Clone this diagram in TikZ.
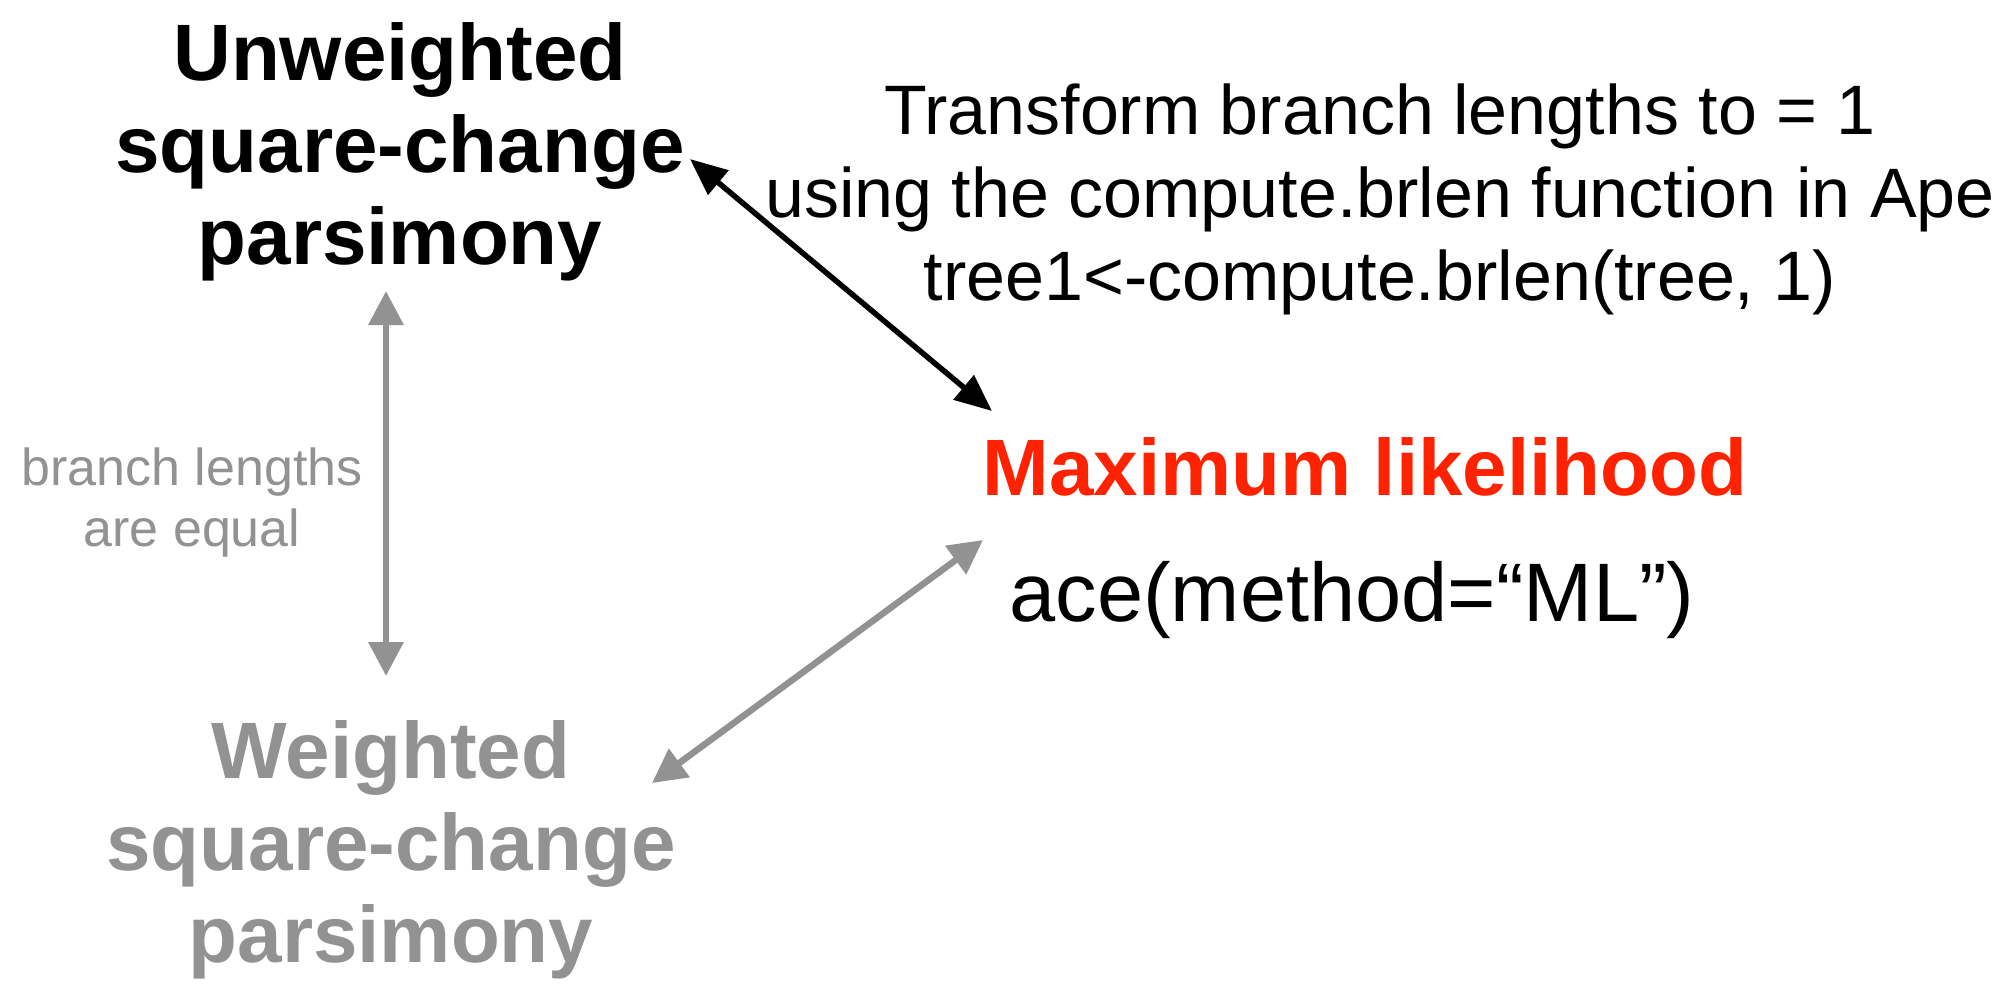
\documentclass[tikz,border=0pt]{standalone}
\usepackage{fontspec}
\setmainfont{Liberation Sans}
\usetikzlibrary{arrows.meta}
\definecolor{mutedgray}{RGB}{146,146,146}
\definecolor{mlred}{RGB}{255,34,0}
\tikzset{
  title/.style={font=\bfseries\fontsize{80}{92}\selectfont, align=center, inner sep=0pt, anchor=base},
  note/.style={font=\fontsize{70}{83}\selectfont, align=center, inner sep=0pt, anchor=base},
  small/.style={font=\fontsize{52}{61}\selectfont, align=center, inner sep=0pt, anchor=base, text=mutedgray},
  blackarrow/.style={line width=5.5pt, {Triangle[length=37pt,width=31pt]}-{Triangle[length=37pt,width=31pt]}},
  grayarrow/.style={line width=6.5pt, draw=mutedgray, {Triangle[length=34pt,width=34pt]}-{Triangle[length=34pt,width=34pt]}}
}
\begin{document}
\begin{tikzpicture}[x=1pt,y=-1pt]
  \useasboundingbox (0,0) rectangle (2000,986);

  % method blocks (multi-line nodes are placed by the baseline of their last line)
  \node[title] (unw) at (400,264) {Unweighted\\square-change\\parsimony};
  \node[title, text=mutedgray] (wei) at (391,962) {Weighted\\square-change\\parsimony};
  \node[title, text=mlred] (ml) at (1365,495) {Maximum likelihood};
  \node[note, font=\fontsize{83}{92}\selectfont] (ace) at (1352,621) {ace(method=“ML”)};

  % annotations
  \node[note] (transform) at (1380,300) {Transform branch lengths to = 1\\using the compute.brlen function in Ape\\tree1<-compute.brlen(tree, 1)};
  \node[small] (equal) at (192,546) {branch lengths\\are equal};

  % arrow end points
  \coordinate (unwR) at (690,159);
  \coordinate (mlL) at (992,411);
  \coordinate (unwB) at (386,291);
  \coordinate (weiT) at (386,676);
  \coordinate (weiR) at (652,783);
  \coordinate (mlB) at (983,540);

  \draw[blackarrow] (unwR) -- (mlL);
  \draw[grayarrow] (unwB) -- (weiT);
  \draw[grayarrow] (weiR) -- (mlB);
\end{tikzpicture}
\end{document}
